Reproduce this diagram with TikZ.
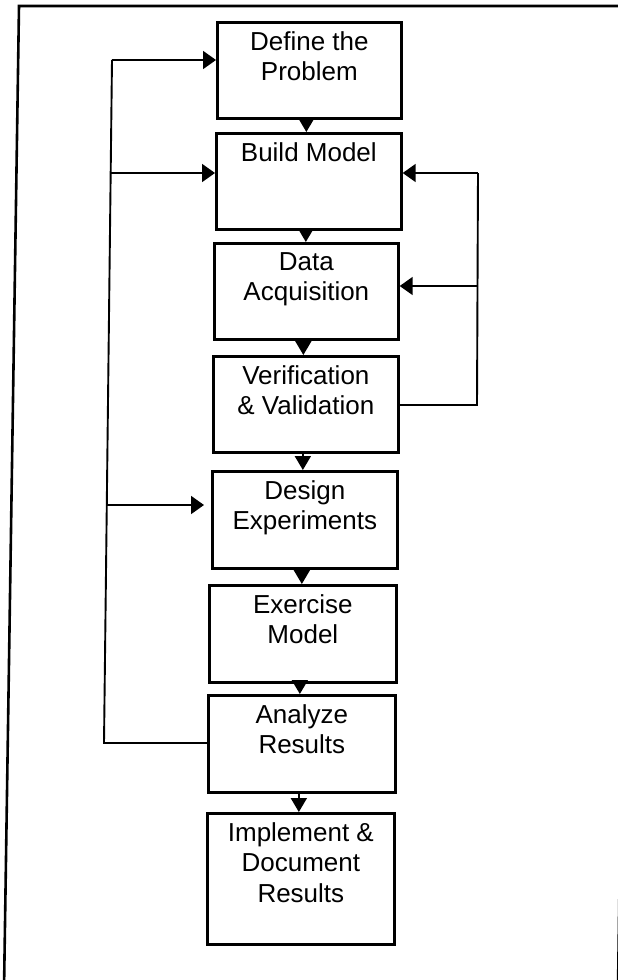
\documentclass[tikz,border=0pt]{standalone}
\usepackage{fontspec}
\setmainfont{Liberation Sans}
\usetikzlibrary{arrows.meta,calc}
\begin{document}
\begin{tikzpicture}[x=1pt,y=-1pt,
  boxsty/.style={draw, line width=2.7pt, anchor=north west, inner sep=0pt},
  txt/.style={anchor=north, inner sep=0pt, align=center, font=\fontsize{26}{30.5}\selectfont},
  fb/.style={line width=1.9pt},
  frame/.style={line width=2.6pt},
  darrow/.style={line width=1.9pt, -{Triangle[length=14pt,width=16pt]}},
  sarrow/.style={line width=1.9pt, -{Triangle[length=13pt,width=18pt]}}]
\useasboundingbox (0,0) rectangle (618,980);
\fill[white] (0,0) rectangle (618,980);
\clip (0,0) rectangle (618,980);
% outer frame (partly outside the page)
\draw[frame] (640,6) -- (19,6) -- (4,990);
\draw[frame] (632,6) -- (618,990);
% boxes
\node[boxsty, minimum width=184pt, minimum height=96pt]  (b1) at (216,21)  {};
\node[boxsty, minimum width=185pt, minimum height=96pt]  (b2) at (215,132) {};
\node[boxsty, minimum width=184pt, minimum height=96pt]  (b3) at (213,242) {};
\node[boxsty, minimum width=185pt, minimum height=96pt]  (b4) at (212,355) {};
\node[boxsty, minimum width=185pt, minimum height=97pt]  (b5) at (211,470) {};
\node[boxsty, minimum width=187pt, minimum height=97pt]  (b6) at (208,584) {};
\node[boxsty, minimum width=187pt, minimum height=97pt]  (b7) at (207,694) {};
\node[boxsty, minimum width=187pt, minimum height=131pt] (b8) at (206,812) {};
% texts
\node[txt] (t1) at ($(b1.north)+(0,10)$) {Define the\\Problem};
\node[txt] (t2) at ($(b2.north)+(0,10)$) {Build Model};
\node[txt] (t3) at ($(b3.north)+(0,10)$) {Data\\Acquisition};
\node[txt] (t4) at ($(b4.north)+(0,10)$) {Verification\\\& Validation};
\node[txt] (t5) at ($(b5.north)+(0,10)$) {Design\\Experiments};
\node[txt] (t6) at ($(b6.north)+(0,10)$) {Exercise\\Model};
\node[txt] (t7) at ($(b7.north)+(0,10)$) {Analyze\\Results};
\node[txt] (t8) at ($(b8.north)+(0,10)$) {Implement \&\\Document\\Results};
% down arrows
\foreach \a/\b in {b1/b2,b2/b3,b3/b4,b4/b5,b5/b6,b6/b7,b7/b8}
  \draw[darrow] ([xshift=-3pt]\a.south) -- ([xshift=-3pt]\a.south |- \b.north);
% left feedback loop
\coordinate (L1) at (112,60);
\coordinate (L2) at (110.7,173);
\coordinate (L3) at (106.8,505);
\coordinate (L4) at (104,743);
\draw[fb] (b7.west |- L4) -- (L4) -- (L1);
\draw[sarrow] (L1) -- (L1 -| b1.west);
\draw[sarrow] (L2) -- (L2 -| b2.west);
\draw[sarrow, shorten >=7pt] (L3) -- (L3 -| b5.west);
% right feedback loop
\coordinate (R1) at (478,173);
\coordinate (R2) at (478,286);
\coordinate (R3) at (477,405);
\draw[fb] (b4.east |- R3) -- (R3) -- (R1);
\draw[sarrow] (R1) -- (R1 -| b2.east);
\draw[sarrow] (R2) -- (R2 -| b3.east);
\end{tikzpicture}
\end{document}
